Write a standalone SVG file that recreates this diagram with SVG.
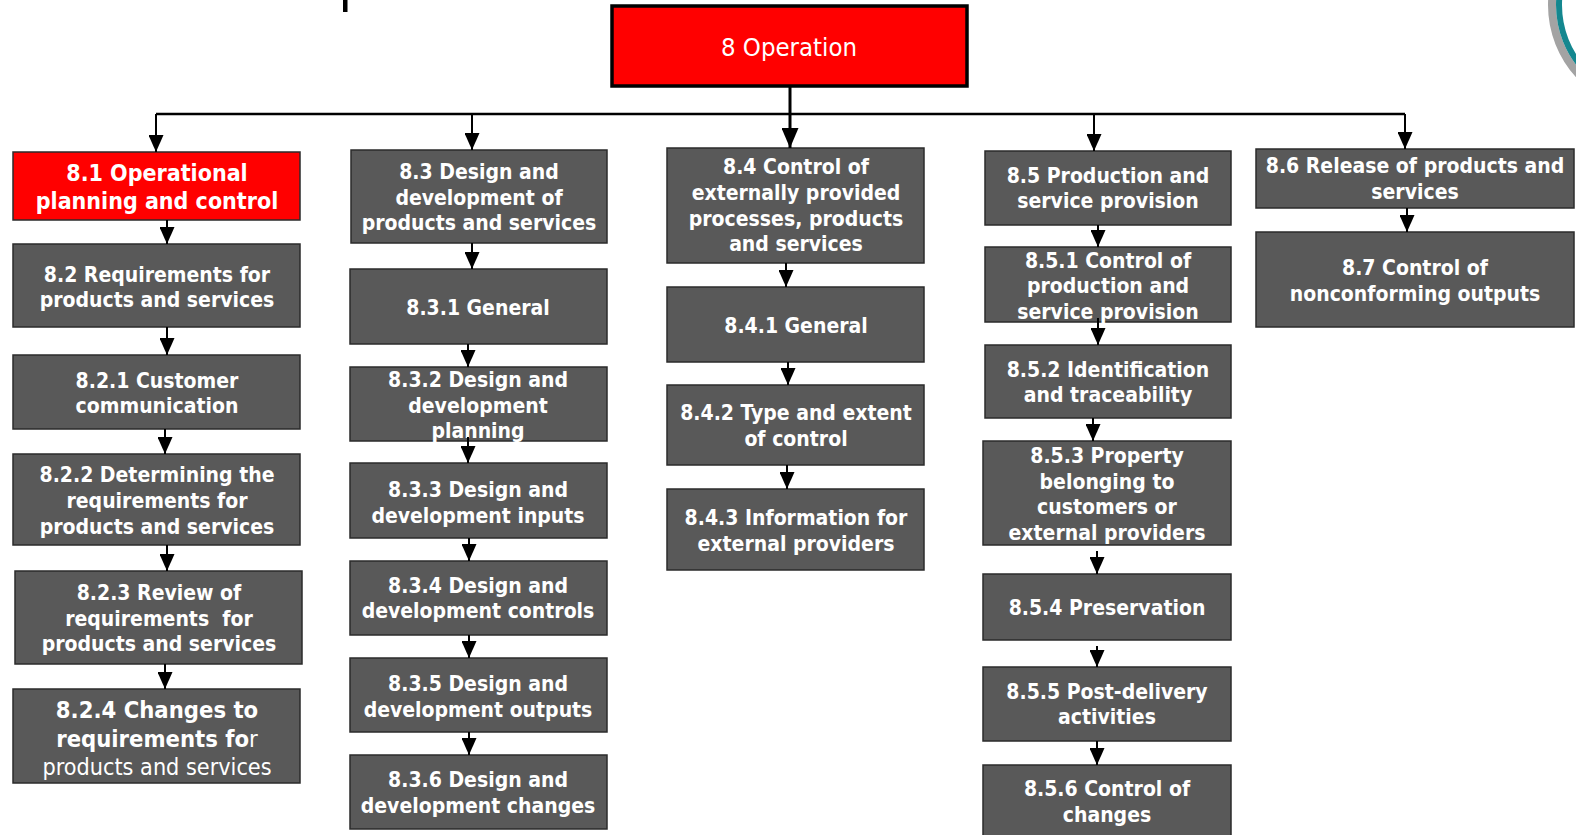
<svg xmlns="http://www.w3.org/2000/svg" width="1576" height="835" viewBox="0 0 1576 835">
  <style>
    .box { fill: #595959; stroke: #2b2b2b; stroke-width: 1.5; }
    .red { fill: #ff0000; stroke: #2b2b2b; stroke-width: 1.5; }
    .top { fill: #ff0000; stroke: #000000; stroke-width: 3.5; }
    .t { font-family: "DejaVu Sans Condensed", "DejaVu Sans", sans-serif; font-weight: bold; font-size: 21px; fill: #ffffff; text-anchor: middle; }
    .tb { font-size: 23px; }
    .tl { font-size: 23.6px; }
    .tr { font-size: 23.2px; font-weight: normal; }
    .reg { font-weight: normal; }
    .tt { font-family: "DejaVu Sans Condensed", "DejaVu Sans", sans-serif; font-size: 25.5px; fill: #ffffff; text-anchor: middle; }
    .c { stroke: #000000; stroke-width: 2; fill: none; marker-end: url(#ah); }
    .bus { stroke: #000000; stroke-width: 2.5; fill: none; }
    .trunk { stroke: #000000; stroke-width: 3; fill: none; marker-end: url(#ahb); }
  </style>
  <defs>
    <marker id="ah" viewBox="0 0 17 15" refX="17" refY="7.5" markerWidth="17" markerHeight="15" markerUnits="userSpaceOnUse" orient="auto">
      <path d="M0,0 L17,7.5 L0,15 z" fill="#000000"/>
    </marker>
    <marker id="ahb" viewBox="0 0 20 17" refX="20" refY="8.5" markerWidth="20" markerHeight="17" markerUnits="userSpaceOnUse" orient="auto">
      <path d="M0,0 L20,8.5 L0,17 z" fill="#000000"/>
    </marker>
  </defs>

  <rect width="1576" height="835" fill="#ffffff"/>

  <!-- partial title stroke and logo ring at the page edges -->
  <rect x="343" y="0" width="4.5" height="12" fill="#000000"/>
  <g id="logo">
    <circle cx="1655" cy="5" r="103" fill="none" stroke="#a3a3a3" stroke-width="8"/>
    <circle cx="1655" cy="5" r="96" fill="none" stroke="#14878f" stroke-width="6"/>
  </g>

  <!-- root -->
  <g id="n8">
    <rect class="top" x="612" y="6" width="355" height="80"/>
    <text class="tt" x="789" y="56">8 Operation</text>
  </g>

  <!-- column 8.1 / 8.2 -->
  <g id="n81">
    <rect class="red" x="13" y="152" width="287" height="68"/>
    <text class="t tb" x="157" y="181">8.1 Operational</text>
    <text class="t tb" x="157" y="209">planning and control</text>
  </g>
  <g id="n82">
    <rect class="box" x="13" y="244" width="287" height="83"/>
    <text class="t" x="157" y="282">8.2 Requirements for</text>
    <text class="t" x="157" y="307">products and services</text>
  </g>
  <g id="n821">
    <rect class="box" x="13" y="355" width="287" height="74"/>
    <text class="t" x="157" y="388">8.2.1 Customer</text>
    <text class="t" x="157" y="413">communication</text>
  </g>
  <g id="n822">
    <rect class="box" x="13" y="454" width="287" height="91"/>
    <text class="t" x="157" y="482">8.2.2 Determining the</text>
    <text class="t" x="157" y="508">requirements for</text>
    <text class="t" x="157" y="534">products and services</text>
  </g>
  <g id="n823">
    <rect class="box" x="15" y="571" width="287" height="93"/>
    <text class="t" x="159" y="600">8.2.3 Review of</text>
    <text class="t" x="159" y="626" xml:space="preserve">requirements  for</text>
    <text class="t" x="159" y="651">products and services</text>
  </g>
  <g id="n824">
    <rect class="box" x="13" y="689" width="287" height="94"/>
    <text class="t tl" x="157" y="718">8.2.4 Changes to</text>
    <text class="t tl" x="157" y="747">requirements fo<tspan class="reg">r</tspan></text>
    <text class="t tr" x="157" y="775">products and services</text>
  </g>

  <!-- column 8.3 -->
  <g id="n83">
    <rect class="box" x="351" y="150" width="256" height="93"/>
    <text class="t" x="479" y="179">8.3 Design and</text>
    <text class="t" x="479" y="205">development of</text>
    <text class="t" x="479" y="230">products and services</text>
  </g>
  <g id="n831">
    <rect class="box" x="350" y="269" width="257" height="75"/>
    <text class="t" x="478" y="315">8.3.1 General</text>
  </g>
  <g id="n832">
    <rect class="box" x="350" y="367" width="257" height="74"/>
    <text class="t" x="478" y="387">8.3.2 Design and</text>
    <text class="t" x="478" y="413">development</text>
    <text class="t" x="478" y="438">planning</text>
  </g>
  <g id="n833">
    <rect class="box" x="350" y="463" width="257" height="75"/>
    <text class="t" x="478" y="497">8.3.3 Design and</text>
    <text class="t" x="478" y="523">development inputs</text>
  </g>
  <g id="n834">
    <rect class="box" x="350" y="561" width="257" height="74"/>
    <text class="t" x="478" y="593">8.3.4 Design and</text>
    <text class="t" x="478" y="618">development controls</text>
  </g>
  <g id="n835">
    <rect class="box" x="350" y="658" width="257" height="74"/>
    <text class="t" x="478" y="691">8.3.5 Design and</text>
    <text class="t" x="478" y="717">development outputs</text>
  </g>
  <g id="n836">
    <rect class="box" x="350" y="755" width="257" height="74"/>
    <text class="t" x="478" y="787">8.3.6 Design and</text>
    <text class="t" x="478" y="813">development changes</text>
  </g>

  <!-- column 8.4 -->
  <g id="n84">
    <rect class="box" x="667" y="148" width="257" height="115"/>
    <text class="t" x="796" y="174">8.4 Control of</text>
    <text class="t" x="796" y="200">externally provided</text>
    <text class="t" x="796" y="226">processes, products</text>
    <text class="t" x="796" y="251">and services</text>
  </g>
  <g id="n841">
    <rect class="box" x="667" y="287" width="257" height="75"/>
    <text class="t" x="796" y="333">8.4.1 General</text>
  </g>
  <g id="n842">
    <rect class="box" x="667" y="385" width="257" height="80"/>
    <text class="t" x="796" y="420">8.4.2 Type and extent</text>
    <text class="t" x="796" y="446">of control</text>
  </g>
  <g id="n843">
    <rect class="box" x="667" y="489" width="257" height="81"/>
    <text class="t" x="796" y="525">8.4.3 Information for</text>
    <text class="t" x="796" y="551">external providers</text>
  </g>

  <!-- column 8.5 -->
  <g id="n85">
    <rect class="box" x="985" y="151" width="246" height="74"/>
    <text class="t" x="1108" y="183">8.5 Production and</text>
    <text class="t" x="1108" y="208">service provision</text>
  </g>
  <g id="n851">
    <rect class="box" x="985" y="247" width="246" height="75"/>
    <text class="t" x="1108" y="268">8.5.1 Control of</text>
    <text class="t" x="1108" y="293">production and</text>
    <text class="t" x="1108" y="319">service provision</text>
  </g>
  <g id="n852">
    <rect class="box" x="985" y="345" width="246" height="73"/>
    <text class="t" x="1108" y="377">8.5.2 Identification</text>
    <text class="t" x="1108" y="402">and traceability</text>
  </g>
  <g id="n853">
    <rect class="box" x="983" y="441" width="248" height="104"/>
    <text class="t" x="1107" y="463">8.5.3 Property</text>
    <text class="t" x="1107" y="489">belonging to</text>
    <text class="t" x="1107" y="514">customers or</text>
    <text class="t" x="1107" y="540">external providers</text>
  </g>
  <g id="n854">
    <rect class="box" x="983" y="574" width="248" height="66"/>
    <text class="t" x="1107" y="615">8.5.4 Preservation</text>
  </g>
  <g id="n855">
    <rect class="box" x="983" y="667" width="248" height="74"/>
    <text class="t" x="1107" y="699">8.5.5 Post-delivery</text>
    <text class="t" x="1107" y="724">activities</text>
  </g>
  <g id="n856">
    <rect class="box" x="983" y="765" width="248" height="80"/>
    <text class="t" x="1107" y="796">8.5.6 Control of</text>
    <text class="t" x="1107" y="822">changes</text>
  </g>

  <!-- column 8.6 / 8.7 -->
  <g id="n86">
    <rect class="box" x="1256" y="149" width="318" height="59"/>
    <text class="t" x="1415" y="173">8.6 Release of products and</text>
    <text class="t" x="1415" y="199">services</text>
  </g>
  <g id="n87">
    <rect class="box" x="1256" y="232" width="318" height="95"/>
    <text class="t" x="1415" y="275">8.7 Control of</text>
    <text class="t" x="1415" y="301">nonconforming outputs</text>
  </g>

  <!-- connectors -->
  <g id="connectors">
    <path class="bus" d="M156,114 H1405"/>
    <path class="trunk" d="M790,86 V148"/>
    <path class="c" d="M156,114 V152"/>
    <path class="c" d="M472,114 V150"/>
    <path class="c" d="M1094,114 V151"/>
    <path class="c" d="M1405,114 V149"/>

    <path class="c" d="M167,220 V244"/>
    <path class="c" d="M167,327 V355"/>
    <path class="c" d="M165,429 V454"/>
    <path class="c" d="M167,545 V571"/>
    <path class="c" d="M165,664 V689"/>

    <path class="c" d="M472,243 V269"/>
    <path class="c" d="M468,344 V367"/>
    <path class="c" d="M468,437 V463"/>
    <path class="c" d="M469,538 V561"/>
    <path class="c" d="M469,635 V658"/>
    <path class="c" d="M469,732 V755"/>

    <path class="c" d="M786,263 V287"/>
    <path class="c" d="M788,362 V385"/>
    <path class="c" d="M787,465 V489"/>

    <path class="c" d="M1098,225 V247"/>
    <path class="c" d="M1098,318 V345"/>
    <path class="c" d="M1093,418 V441"/>
    <path class="c" d="M1097,551 V574"/>
    <path class="c" d="M1097,646 V667"/>
    <path class="c" d="M1097,741 V765"/>

    <path class="c" d="M1407,208 V232"/>
  </g>
</svg>
